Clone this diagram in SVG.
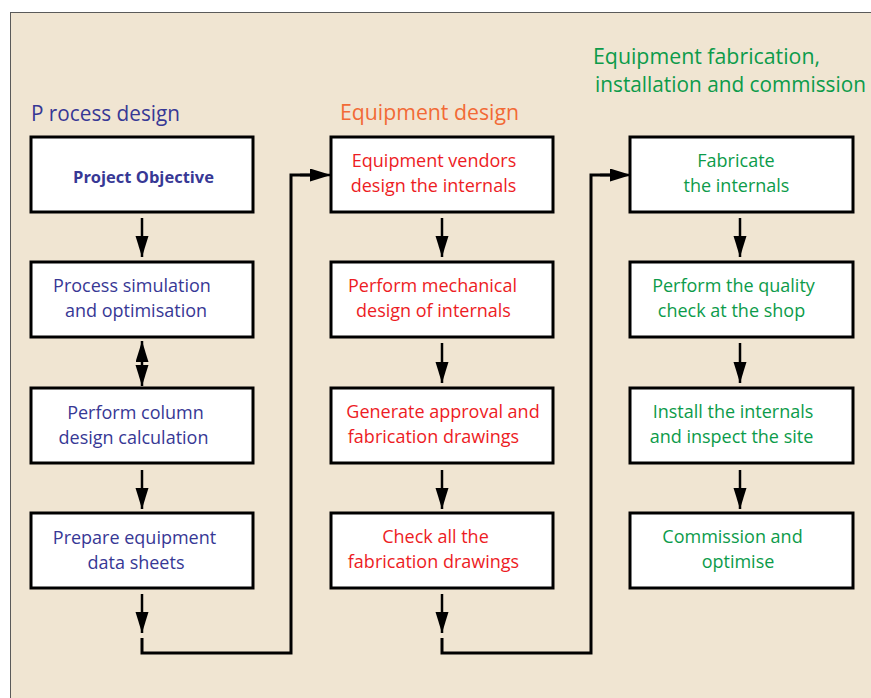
<svg xmlns="http://www.w3.org/2000/svg" width="871" height="698" viewBox="0 0 871 698">
<style>
  .box { fill: #ffffff; stroke: #000000; stroke-width: 3; }
  .t { font-family: "Open Sans", "Noto Sans", sans-serif; font-size: 18px; text-anchor: middle; }
  .title { font-family: "Open Sans", "Noto Sans", sans-serif; font-size: 21px; }
  .blue { fill: #373895; }
  .red { fill: #ed1c24; }
  .orange { fill: #f26a36; }
  .green { fill: #0c9b4a; }
  .arr { fill: none; stroke: #000000; stroke-width: 2.5; marker-end: url(#ah); }
  .conn { fill: none; stroke: #000000; stroke-width: 3; }
</style>
<defs>
  <marker id="ah" markerUnits="userSpaceOnUse" markerWidth="22" markerHeight="14" refX="21" refY="6.5" orient="auto-start-reverse">
    <path d="M0,0 L21,6.5 L0,13 Z" fill="#000000"/>
  </marker>
</defs>
<rect x="0" y="0" width="871" height="698" fill="#ffffff"/>
<rect x="10.5" y="12.5" width="880" height="700" fill="#f0e5d2" stroke="#5a5a5a" stroke-width="1"/>

<text class="title blue" x="31" y="121" textLength="149" lengthAdjust="spacingAndGlyphs">P rocess design</text>
<text class="title orange" x="340" y="120" textLength="179" lengthAdjust="spacingAndGlyphs">Equipment design</text>
<text class="title green" x="593" y="64" textLength="227" lengthAdjust="spacingAndGlyphs">Equipment fabrication,</text>
<text class="title green" x="595" y="92" textLength="271" lengthAdjust="spacingAndGlyphs">installation and commission</text>

<g id="connectors">
  <path class="arr" d="M142,218 V257"/>
  <path class="arr" d="M142,341 V386" style="marker-start:url(#ah)"/>
  <path class="arr" d="M142,470 V509"/>
  <path class="arr" d="M142,594 V633"/>
  <path class="arr" d="M442,218 V257"/>
  <path class="arr" d="M442,343 V383"/>
  <path class="arr" d="M442,470 V509"/>
  <path class="arr" d="M442,594 V633"/>
  <path class="arr" d="M740,218 V257"/>
  <path class="arr" d="M740,343 V383"/>
  <path class="arr" d="M740,470 V509"/>
  <path class="conn" d="M142,638 V653 H291 V175 H314"/>
  <path class="arr" d="M300,175 H331"/>
  <path class="conn" d="M442,638 V653 H591 V175 H614"/>
  <path class="arr" d="M600,175 H631"/>
</g>

<g id="n1">
  <rect class="box" x="31" y="137" width="222" height="75"/>
  <text class="t blue" x="143.5" y="183" style="font-weight:bold;font-size:16.5px">Project Objective</text>
</g>
<g id="n2">
  <rect class="box" x="31" y="262" width="222" height="75"/>
  <text class="t blue" x="132" y="292">Process simulation</text>
  <text class="t blue" x="136" y="317">and optimisation</text>
</g>
<g id="n3">
  <rect class="box" x="31" y="388" width="222" height="75"/>
  <text class="t blue" x="135.5" y="419">Perform column</text>
  <text class="t blue" x="133.5" y="444">design calculation</text>
</g>
<g id="n4">
  <rect class="box" x="31" y="513" width="222" height="75"/>
  <text class="t blue" x="134.5" y="544">Prepare equipment</text>
  <text class="t blue" x="136" y="569">data sheets</text>
</g>

<g id="n5">
  <rect class="box" x="331" y="137" width="222" height="75"/>
  <text class="t red" x="434" y="167">Equipment vendors</text>
  <text class="t red" x="433.5" y="192">design the internals</text>
</g>
<g id="n6">
  <rect class="box" x="331" y="262" width="222" height="75"/>
  <text class="t red" x="432.5" y="292">Perform mechanical</text>
  <text class="t red" x="433.5" y="317">design of internals</text>
</g>
<g id="n7">
  <rect class="box" x="331" y="388" width="222" height="75"/>
  <text class="t red" x="443" y="418">Generate approval and</text>
  <text class="t red" x="433.5" y="443">fabrication drawings</text>
</g>
<g id="n8">
  <rect class="box" x="331" y="513" width="222" height="75"/>
  <text class="t red" x="435.5" y="543">Check all the</text>
  <text class="t red" x="433.5" y="568">fabrication drawings</text>
</g>

<g id="n9">
  <rect class="box" x="630" y="137" width="223" height="75"/>
  <text class="t green" x="736" y="167">Fabricate</text>
  <text class="t green" x="736.5" y="192">the internals</text>
</g>
<g id="n10">
  <rect class="box" x="630" y="262" width="223" height="75"/>
  <text class="t green" x="733.5" y="292">Perform the quality</text>
  <text class="t green" x="731.5" y="317">check at the shop</text>
</g>
<g id="n11">
  <rect class="box" x="630" y="388" width="223" height="75"/>
  <text class="t green" x="733" y="418">Install the internals</text>
  <text class="t green" x="731.5" y="443">and inspect the site</text>
</g>
<g id="n12">
  <rect class="box" x="630" y="513" width="223" height="75"/>
  <text class="t green" x="732.5" y="543">Commission and</text>
  <text class="t green" x="738" y="568">optimise</text>
</g>
</svg>
